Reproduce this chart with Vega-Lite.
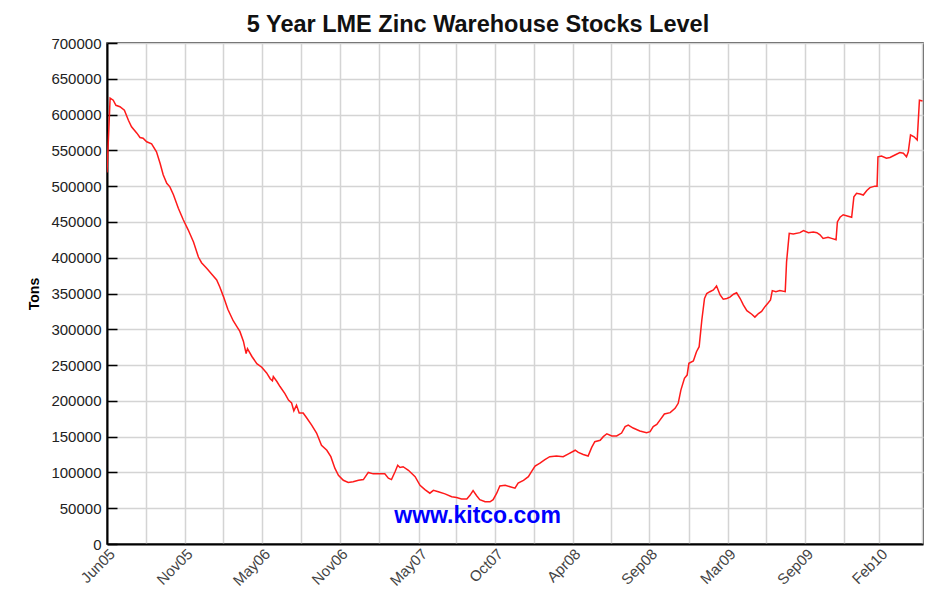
{
  "$schema": "https://vega.github.io/schema/vega-lite/v6.json",
  "width": 816,
  "height": 501,
  "autosize": {"type": "none"},
  "padding": {"left": 107, "top": 43, "right": 20, "bottom": 47},
  "background": "white",
  "config": {
    "font": "Liberation Sans",
    "view": {"stroke": "#222222", "strokeWidth": 1.5}
  },
  "title": {
    "text": "5 Year LME Zinc Warehouse Stocks Level",
    "fontSize": 23.5,
    "fontWeight": "bold",
    "color": "#111111",
    "font": "Liberation Sans",
    "anchor": "middle",
    "dx": -37,
    "offset": 0
  },
  "layer": [
    {
      "data": {"values": [
        {"date":"2005-06-01","tons":519000},{"date":"2005-06-08","tons":623000},{"date":"2005-06-15","tons":620000},{"date":"2005-06-21","tons":613000},{"date":"2005-06-30","tons":611000},{"date":"2005-07-10","tons":606000},{"date":"2005-07-19","tons":592000},{"date":"2005-07-26","tons":583000},{"date":"2005-08-07","tons":574000},{"date":"2005-08-14","tons":568000},{"date":"2005-08-21","tons":567000},{"date":"2005-08-29","tons":562000},{"date":"2005-09-09","tons":559000},{"date":"2005-09-20","tons":548000},{"date":"2005-09-28","tons":532000},{"date":"2005-10-05","tons":516000},{"date":"2005-10-13","tons":504000},{"date":"2005-10-20","tons":499000},{"date":"2005-10-28","tons":488000},{"date":"2005-11-08","tons":469000},{"date":"2005-11-19","tons":453000},{"date":"2005-11-30","tons":439000},{"date":"2005-12-12","tons":422000},{"date":"2005-12-23","tons":401000},{"date":"2005-12-30","tons":393000},
        {"date":"2006-01-11","tons":385000},{"date":"2006-01-22","tons":377000},{"date":"2006-02-02","tons":369000},{"date":"2006-02-09","tons":359000},{"date":"2006-02-17","tons":346000},{"date":"2006-02-27","tons":328000},{"date":"2006-03-11","tons":312000},{"date":"2006-03-20","tons":303000},{"date":"2006-03-26","tons":297000},{"date":"2006-04-03","tons":283000},{"date":"2006-04-09","tons":266000},{"date":"2006-04-12","tons":273000},{"date":"2006-04-22","tons":262000},{"date":"2006-05-03","tons":252000},{"date":"2006-05-14","tons":247000},{"date":"2006-05-25","tons":239000},{"date":"2006-06-02","tons":231000},{"date":"2006-06-07","tons":228000},{"date":"2006-06-09","tons":234000},{"date":"2006-06-17","tons":227000},{"date":"2006-06-24","tons":220000},{"date":"2006-07-05","tons":210000},{"date":"2006-07-13","tons":201000},{"date":"2006-07-20","tons":197000},{"date":"2006-07-25","tons":186000},{"date":"2006-07-31","tons":194000},{"date":"2006-08-06","tons":183000},{"date":"2006-08-15","tons":183000},{"date":"2006-08-23","tons":176000},{"date":"2006-09-03","tons":166000},{"date":"2006-09-14","tons":155000},{"date":"2006-09-25","tons":138000},{"date":"2006-10-07","tons":131000},{"date":"2006-10-16","tons":122000},{"date":"2006-10-25","tons":106000},{"date":"2006-11-02","tons":96000},{"date":"2006-11-13","tons":89000},{"date":"2006-11-24","tons":86000},{"date":"2006-12-05","tons":87000},{"date":"2006-12-17","tons":89000},{"date":"2006-12-28","tons":90000},
        {"date":"2007-01-08","tons":100000},{"date":"2007-01-19","tons":98000},{"date":"2007-01-30","tons":98000},{"date":"2007-02-14","tons":98000},{"date":"2007-02-22","tons":92000},{"date":"2007-03-01","tons":90000},{"date":"2007-03-09","tons":101000},{"date":"2007-03-15","tons":110000},{"date":"2007-03-20","tons":107000},{"date":"2007-03-27","tons":108000},{"date":"2007-04-08","tons":103000},{"date":"2007-04-23","tons":94000},{"date":"2007-05-04","tons":82000},{"date":"2007-05-15","tons":76000},{"date":"2007-05-26","tons":71000},{"date":"2007-06-03","tons":75000},{"date":"2007-06-14","tons":73000},{"date":"2007-06-29","tons":70000},{"date":"2007-07-14","tons":66000},{"date":"2007-07-25","tons":65000},{"date":"2007-08-05","tons":63000},{"date":"2007-08-17","tons":63000},{"date":"2007-08-24","tons":68000},{"date":"2007-08-31","tons":74500},{"date":"2007-09-08","tons":67500},{"date":"2007-09-15","tons":62000},{"date":"2007-09-27","tons":59000},{"date":"2007-10-08","tons":59000},{"date":"2007-10-15","tons":62000},{"date":"2007-10-23","tons":71000},{"date":"2007-10-30","tons":81000},{"date":"2007-11-11","tons":82000},{"date":"2007-11-22","tons":80000},{"date":"2007-12-03","tons":78000},{"date":"2007-12-10","tons":85000},{"date":"2007-12-22","tons":89000},
        {"date":"2008-01-02","tons":94000},{"date":"2008-01-09","tons":101000},{"date":"2008-01-17","tons":109000},{"date":"2008-01-28","tons":113000},{"date":"2008-02-08","tons":118000},{"date":"2008-02-19","tons":122000},{"date":"2008-03-05","tons":123000},{"date":"2008-03-20","tons":122000},{"date":"2008-04-01","tons":126000},{"date":"2008-04-16","tons":131000},{"date":"2008-04-23","tons":128000},{"date":"2008-05-04","tons":125000},{"date":"2008-05-15","tons":123000},{"date":"2008-05-23","tons":135000},{"date":"2008-05-30","tons":143000},{"date":"2008-06-11","tons":145000},{"date":"2008-06-18","tons":150000},{"date":"2008-06-26","tons":154000},{"date":"2008-07-07","tons":151000},{"date":"2008-07-18","tons":151000},{"date":"2008-07-29","tons":155000},{"date":"2008-08-06","tons":164000},{"date":"2008-08-13","tons":166000},{"date":"2008-08-24","tons":162000},{"date":"2008-09-08","tons":158000},{"date":"2008-09-23","tons":155500},{"date":"2008-10-01","tons":157000},{"date":"2008-10-08","tons":164000},{"date":"2008-10-16","tons":167000},{"date":"2008-10-23","tons":173000},{"date":"2008-11-02","tons":181600},{"date":"2008-11-15","tons":183500},{"date":"2008-11-26","tons":189600},{"date":"2008-12-03","tons":196600},{"date":"2008-12-09","tons":215000},{"date":"2008-12-17","tons":231500},{"date":"2008-12-23","tons":236000},{"date":"2008-12-27","tons":252500},
        {"date":"2009-01-06","tons":255700},{"date":"2009-01-13","tons":268700},{"date":"2009-01-19","tons":275700},{"date":"2009-01-25","tons":313000},{"date":"2009-01-31","tons":343000},{"date":"2009-02-05","tons":350000},{"date":"2009-02-12","tons":352500},{"date":"2009-02-20","tons":355000},{"date":"2009-02-27","tons":360500},{"date":"2009-03-07","tons":348000},{"date":"2009-03-14","tons":342000},{"date":"2009-03-22","tons":343000},{"date":"2009-03-29","tons":345000},{"date":"2009-04-06","tons":349000},{"date":"2009-04-13","tons":351000},{"date":"2009-04-21","tons":343000},{"date":"2009-04-28","tons":334000},{"date":"2009-05-06","tons":326000},{"date":"2009-05-17","tons":321000},{"date":"2009-05-24","tons":317000},{"date":"2009-06-01","tons":322000},{"date":"2009-06-08","tons":325000},{"date":"2009-06-16","tons":332000},{"date":"2009-06-23","tons":337000},{"date":"2009-06-28","tons":341000},{"date":"2009-07-02","tons":354000},{"date":"2009-07-10","tons":352500},{"date":"2009-07-19","tons":354000},{"date":"2009-07-31","tons":352500},{"date":"2009-08-03","tons":394000},{"date":"2009-08-09","tons":434000},{"date":"2009-08-18","tons":433000},{"date":"2009-09-02","tons":435000},{"date":"2009-09-10","tons":438000},{"date":"2009-09-21","tons":435000},{"date":"2009-10-02","tons":436000},{"date":"2009-10-10","tons":435000},{"date":"2009-10-17","tons":432000},{"date":"2009-10-24","tons":427000},{"date":"2009-11-04","tons":428500},{"date":"2009-11-12","tons":427000},{"date":"2009-11-22","tons":425000},{"date":"2009-11-25","tons":450000},{"date":"2009-12-01","tons":456500},{"date":"2009-12-08","tons":460000},{"date":"2009-12-19","tons":458000},{"date":"2009-12-27","tons":456500},
        {"date":"2010-01-01","tons":485000},{"date":"2010-01-07","tons":490000},{"date":"2010-01-15","tons":489000},{"date":"2010-01-22","tons":487600},{"date":"2010-01-30","tons":494000},{"date":"2010-02-06","tons":498000},{"date":"2010-02-17","tons":500000},{"date":"2010-02-22","tons":500000},{"date":"2010-02-24","tons":541000},{"date":"2010-03-04","tons":542000},{"date":"2010-03-15","tons":539000},{"date":"2010-03-23","tons":540000},{"date":"2010-04-03","tons":543500},{"date":"2010-04-14","tons":547000},{"date":"2010-04-22","tons":546000},{"date":"2010-04-29","tons":541000},{"date":"2010-05-03","tons":548000},{"date":"2010-05-08","tons":571500},{"date":"2010-05-16","tons":569000},{"date":"2010-05-23","tons":564500},{"date":"2010-05-28","tons":620000},{"date":"2010-06-04","tons":619000}
      ]},
      "mark": {"type": "line", "color": "#ff1a1a", "strokeWidth": 1.5, "clip": true},
      "encoding": {
        "x": {
          "field": "date",
          "type": "temporal",
          "scale": {"type": "utc", "domain": [{"year": 2005, "month": 6, "date": 1, "utc": true}, {"year": 2010, "month": 6, "date": 5, "utc": true}]},
          "axis": {
            "title": null,
            "format": "%b%y",
            "tickCount": 100,
            "values": [
              {"year": 2005, "month": 6, "date": 1, "utc": true},
              {"year": 2005, "month": 8, "date": 27, "utc": true},
              {"year": 2005, "month": 11, "date": 22, "utc": true},
              {"year": 2006, "month": 2, "date": 17, "utc": true},
              {"year": 2006, "month": 5, "date": 15, "utc": true},
              {"year": 2006, "month": 8, "date": 10, "utc": true},
              {"year": 2006, "month": 11, "date": 5, "utc": true},
              {"year": 2007, "month": 1, "date": 31, "utc": true},
              {"year": 2007, "month": 5, "date": 2, "utc": true},
              {"year": 2007, "month": 7, "date": 24, "utc": true},
              {"year": 2007, "month": 10, "date": 19, "utc": true},
              {"year": 2008, "month": 1, "date": 14, "utc": true},
              {"year": 2008, "month": 4, "date": 10, "utc": true},
              {"year": 2008, "month": 7, "date": 6, "utc": true},
              {"year": 2008, "month": 9, "date": 29, "utc": true},
              {"year": 2008, "month": 12, "date": 27, "utc": true},
              {"year": 2009, "month": 3, "date": 24, "utc": true},
              {"year": 2009, "month": 6, "date": 19, "utc": true},
              {"year": 2009, "month": 9, "date": 14, "utc": true},
              {"year": 2009, "month": 12, "date": 10, "utc": true},
              {"year": 2010, "month": 2, "date": 27, "utc": true},
              {"year": 2010, "month": 6, "date": 2, "utc": true}
            ],
            "labelExpr": "indexof(['Jun05','Nov05','May06','Nov06','May07','Oct07','Apr08','Sep08','Mar09','Sep09','Feb10'], datum.label) >= 0 ? datum.label : ''",
            "labelAngle": -45,
            "labelFontSize": 15,
            "labelColor": "#444444",
            "labelPadding": 2,
            "labelOverlap": false,
            "labelFlush": false,
            "ticks": false,
            "domain": true,
            "domainColor": "#000000",
            "domainWidth": 2,
            "grid": true,
            "gridColor": "#d4d4d4",
            "gridWidth": 1.5
          }
        },
        "y": {
          "field": "tons",
          "type": "quantitative",
          "scale": {"domain": [0, 700000], "nice": false, "zero": true},
          "axis": {
            "title": "Tons",
            "titleFontSize": 14,
            "titleFontWeight": "bold",
            "titleColor": "#000000",
            "titlePadding": 9,
            "tickCount": 100,
            "values": [0, 50000, 100000, 150000, 200000, 250000, 300000, 350000, 400000, 450000, 500000, 550000, 600000, 650000, 700000],
            "format": "d",
            "labelFontSize": 15,
            "labelColor": "#222222",
            "labelPadding": 16,
            "labelFlush": false,
            "labelOverlap": false,
            "ticks": true,
            "tickSize": -10,
            "tickColor": "#000000",
            "tickWidth": 1.5,
            "domain": true,
            "domainColor": "#000000",
            "domainWidth": 2,
            "grid": true,
            "gridColor": "#d4d4d4",
            "gridWidth": 1.5
          }
        }
      }
    },
    {
      "data": {"values": [{"site": "www.kitco.com"}]},
      "mark": {"type": "text", "color": "#0000ff", "fontSize": 23, "fontWeight": "bold", "font": "Liberation Sans", "align": "center", "baseline": "middle"},
      "encoding": {
        "text": {"field": "site", "type": "nominal"},
        "x": {"datum": {"year": 2007, "month": 9, "date": 10, "utc": true}, "type": "temporal"},
        "y": {"datum": 39000, "type": "quantitative"}
      }
    }
  ]
}
